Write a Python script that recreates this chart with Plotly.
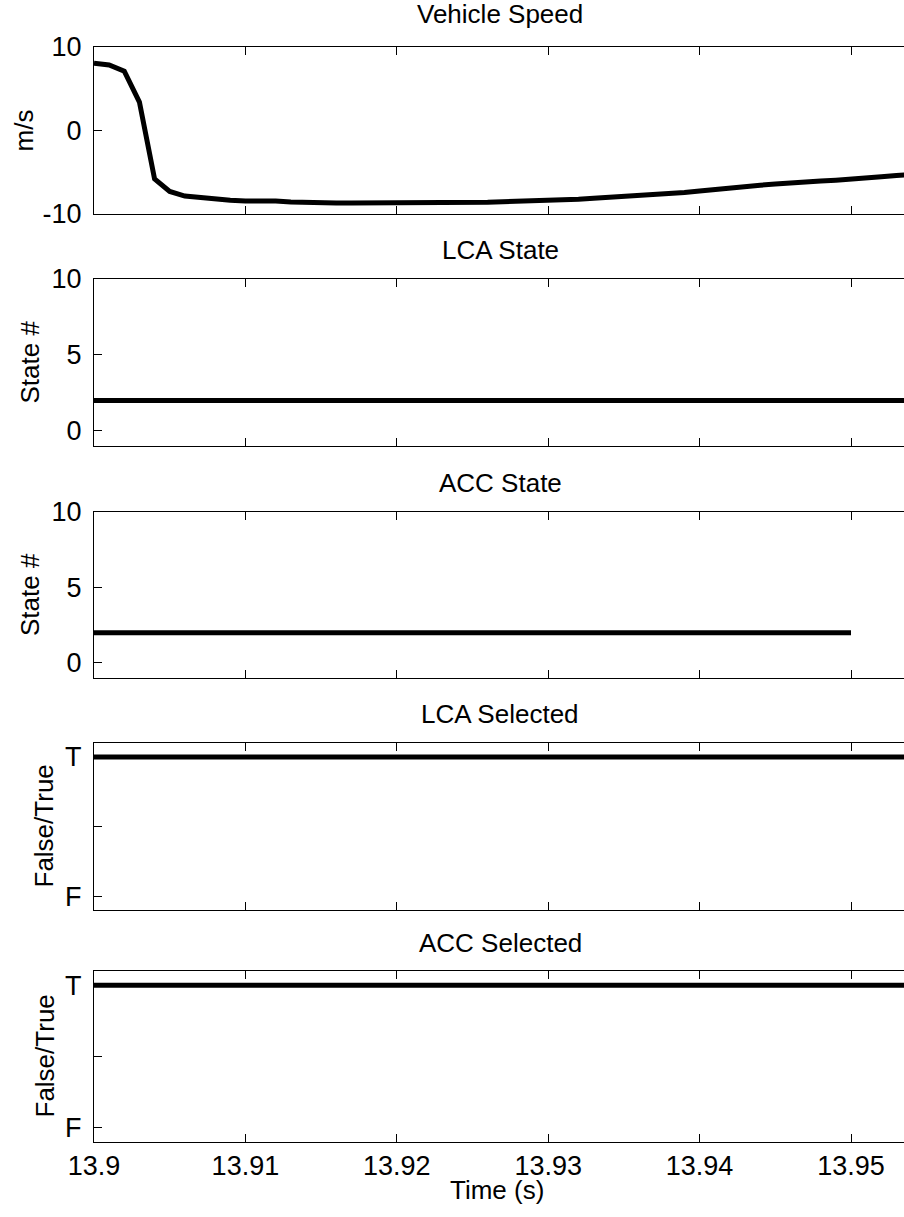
import plotly.graph_objects as go

# ---------------- data ----------------
speed_time = [13.900, 13.901, 13.902, 13.903, 13.904, 13.905, 13.906, 13.907, 13.908, 13.909,
              13.910, 13.911, 13.912, 13.913, 13.914, 13.915, 13.916, 13.917, 13.918, 13.919,
              13.920, 13.921, 13.922, 13.923, 13.924, 13.925, 13.926, 13.927, 13.928, 13.929,
              13.930, 13.931, 13.932, 13.933, 13.934, 13.935, 13.936, 13.937, 13.938, 13.939,
              13.940, 13.941, 13.942, 13.943, 13.944, 13.945, 13.946, 13.947, 13.948, 13.949,
              13.950, 13.951, 13.952, 13.953, 13.954]
speed = [8.05, 7.85, 7.10, 3.40, -5.80, -7.30, -7.85, -8.05, -8.20, -8.35,
         -8.45, -8.40, -8.45, -8.55, -8.62, -8.68, -8.68, -8.68, -8.68, -8.68,
         -8.68, -8.68, -8.68, -8.66, -8.62, -8.62, -8.58, -8.52, -8.48, -8.42,
         -8.38, -8.30, -8.22, -8.12, -8.02, -7.92, -7.82, -7.72, -7.58, -7.42,
         -7.25, -7.05, -6.90, -6.72, -6.55, -6.42, -6.25, -6.18, -6.05, -5.95,
         -5.85, -5.70, -5.55, -5.40, -5.25]

lca_state_time = [13.900, 13.954]
lca_state = [2, 2]
acc_state_time = [13.900, 13.950]
acc_state = [2, 2]
lca_selected_time = [13.900, 13.954]
lca_selected = [1, 1]
acc_selected_time = [13.900, 13.954]
acc_selected = [1, 1]

titles = ["Vehicle Speed", "LCA State", "ACC State", "LCA Selected", "ACC Selected"]
ylabels = ["m/s", "State #", "State #", "False/True", "False/True"]
x_ticks = [13.90, 13.91, 13.92, 13.93, 13.94, 13.95]
x_ticktext = ["13.9", "13.91", "13.92", "13.93", "13.94", "13.95"]
bool_tickvals = [0, 0.5, 1]
bool_ticktext = ["F", "", "T"]

# ---------------- layout geometry ----------------
W, H = 904, 1217
ML, MR, MT, MB = 94, 0, 47, 75
PH = H - MT - MB
PW = W - ML - MR
bottom_px = H - MB


def py(p):  # pixel y -> paper y
    return (bottom_px - p) / PH


def px(p):  # pixel x -> paper x
    return (p - ML) / PW


boxes = [(47, 214), (279, 446), (512, 678), (743, 910), (971, 1142)]
title_y = [14, 250, 483, 714, 943]
ylabel_x = [23, 30, 30, 44, 44]

FONT = "Liberation Sans, Arial, sans-serif"
FS = 27
FT = 26
LW = 5
x_range = [13.9, 13.9 + (W - ML) / 15140.0]

fig = go.Figure()

series = [
    (speed_time, speed),
    (lca_state_time, lca_state),
    (acc_state_time, acc_state),
    (lca_selected_time, lca_selected),
    (acc_selected_time, acc_selected),
]
for i, (t, v) in enumerate(series):
    sfx = "" if i == 0 else str(i + 1)
    fig.add_trace(go.Scatter(x=t, y=v, mode="lines", xaxis="x" + sfx, yaxis="y" + sfx,
                             line=dict(color="black", width=LW), showlegend=False,
                             hoverinfo="skip"))

yranges = [[-10, 10], [-1, 10], [-1, 10], [-0.1, 1.1], [-0.1, 1.1]]
ytickvals = [[-10, 0, 10], [0, 5, 10], [0, 5, 10], bool_tickvals, bool_tickvals]
ytexts = [["-10", "0", "10"], ["0", "5", "10"], ["0", "5", "10"], bool_ticktext, bool_ticktext]

annotations = []
for i in range(5):
    sfx = "" if i == 0 else str(i + 1)
    top, bot = boxes[i]
    dom = [py(bot), py(top)]
    common = dict(showgrid=False, zeroline=False, showline=True, linecolor="black",
                  linewidth=1, ticks="inside", ticklen=8, tickwidth=1, tickcolor="black",
                  tickfont=dict(family=FONT, size=FS, color="black"), fixedrange=True)
    fig.layout["xaxis" + sfx] = dict(
        common, domain=[0, 1], range=x_range, anchor="y" + sfx, mirror="ticks",
        tickvals=x_ticks, ticktext=x_ticktext, showticklabels=(i == 4),
        ticklabelstandoff=0,
    )
    fig.layout["yaxis" + sfx] = dict(
        common, domain=dom, range=yranges[i], anchor="x" + sfx, mirror=False,
        tickvals=ytickvals[i], ticktext=ytexts[i], ticklabelstandoff=6,
    )
    annotations.append(dict(text=titles[i], xref="paper", yref="paper",
                            x=px(500), y=py(title_y[i]), xanchor="center", yanchor="middle",
                            showarrow=False, font=dict(family=FONT, size=FT, color="black")))
    annotations.append(dict(text=ylabels[i], xref="paper", yref="paper",
                            x=px(ylabel_x[i]), y=py((top + bot) / 2), xanchor="center",
                            yanchor="middle", textangle=-90, showarrow=False,
                            font=dict(family=FONT, size=FT, color="black")))

annotations.append(dict(text="Time (s)", xref="paper", yref="paper", x=px(497), y=py(1190),
                        xanchor="center", yanchor="middle", showarrow=False,
                        font=dict(family=FONT, size=FT, color="black")))

fig.update_layout(width=W, height=H, margin=dict(l=ML, r=MR, t=MT, b=MB, pad=0),
                  plot_bgcolor="white", paper_bgcolor="white", annotations=annotations,
                  font=dict(family=FONT, size=FS, color="black"))

fig.write_html("out.html")
